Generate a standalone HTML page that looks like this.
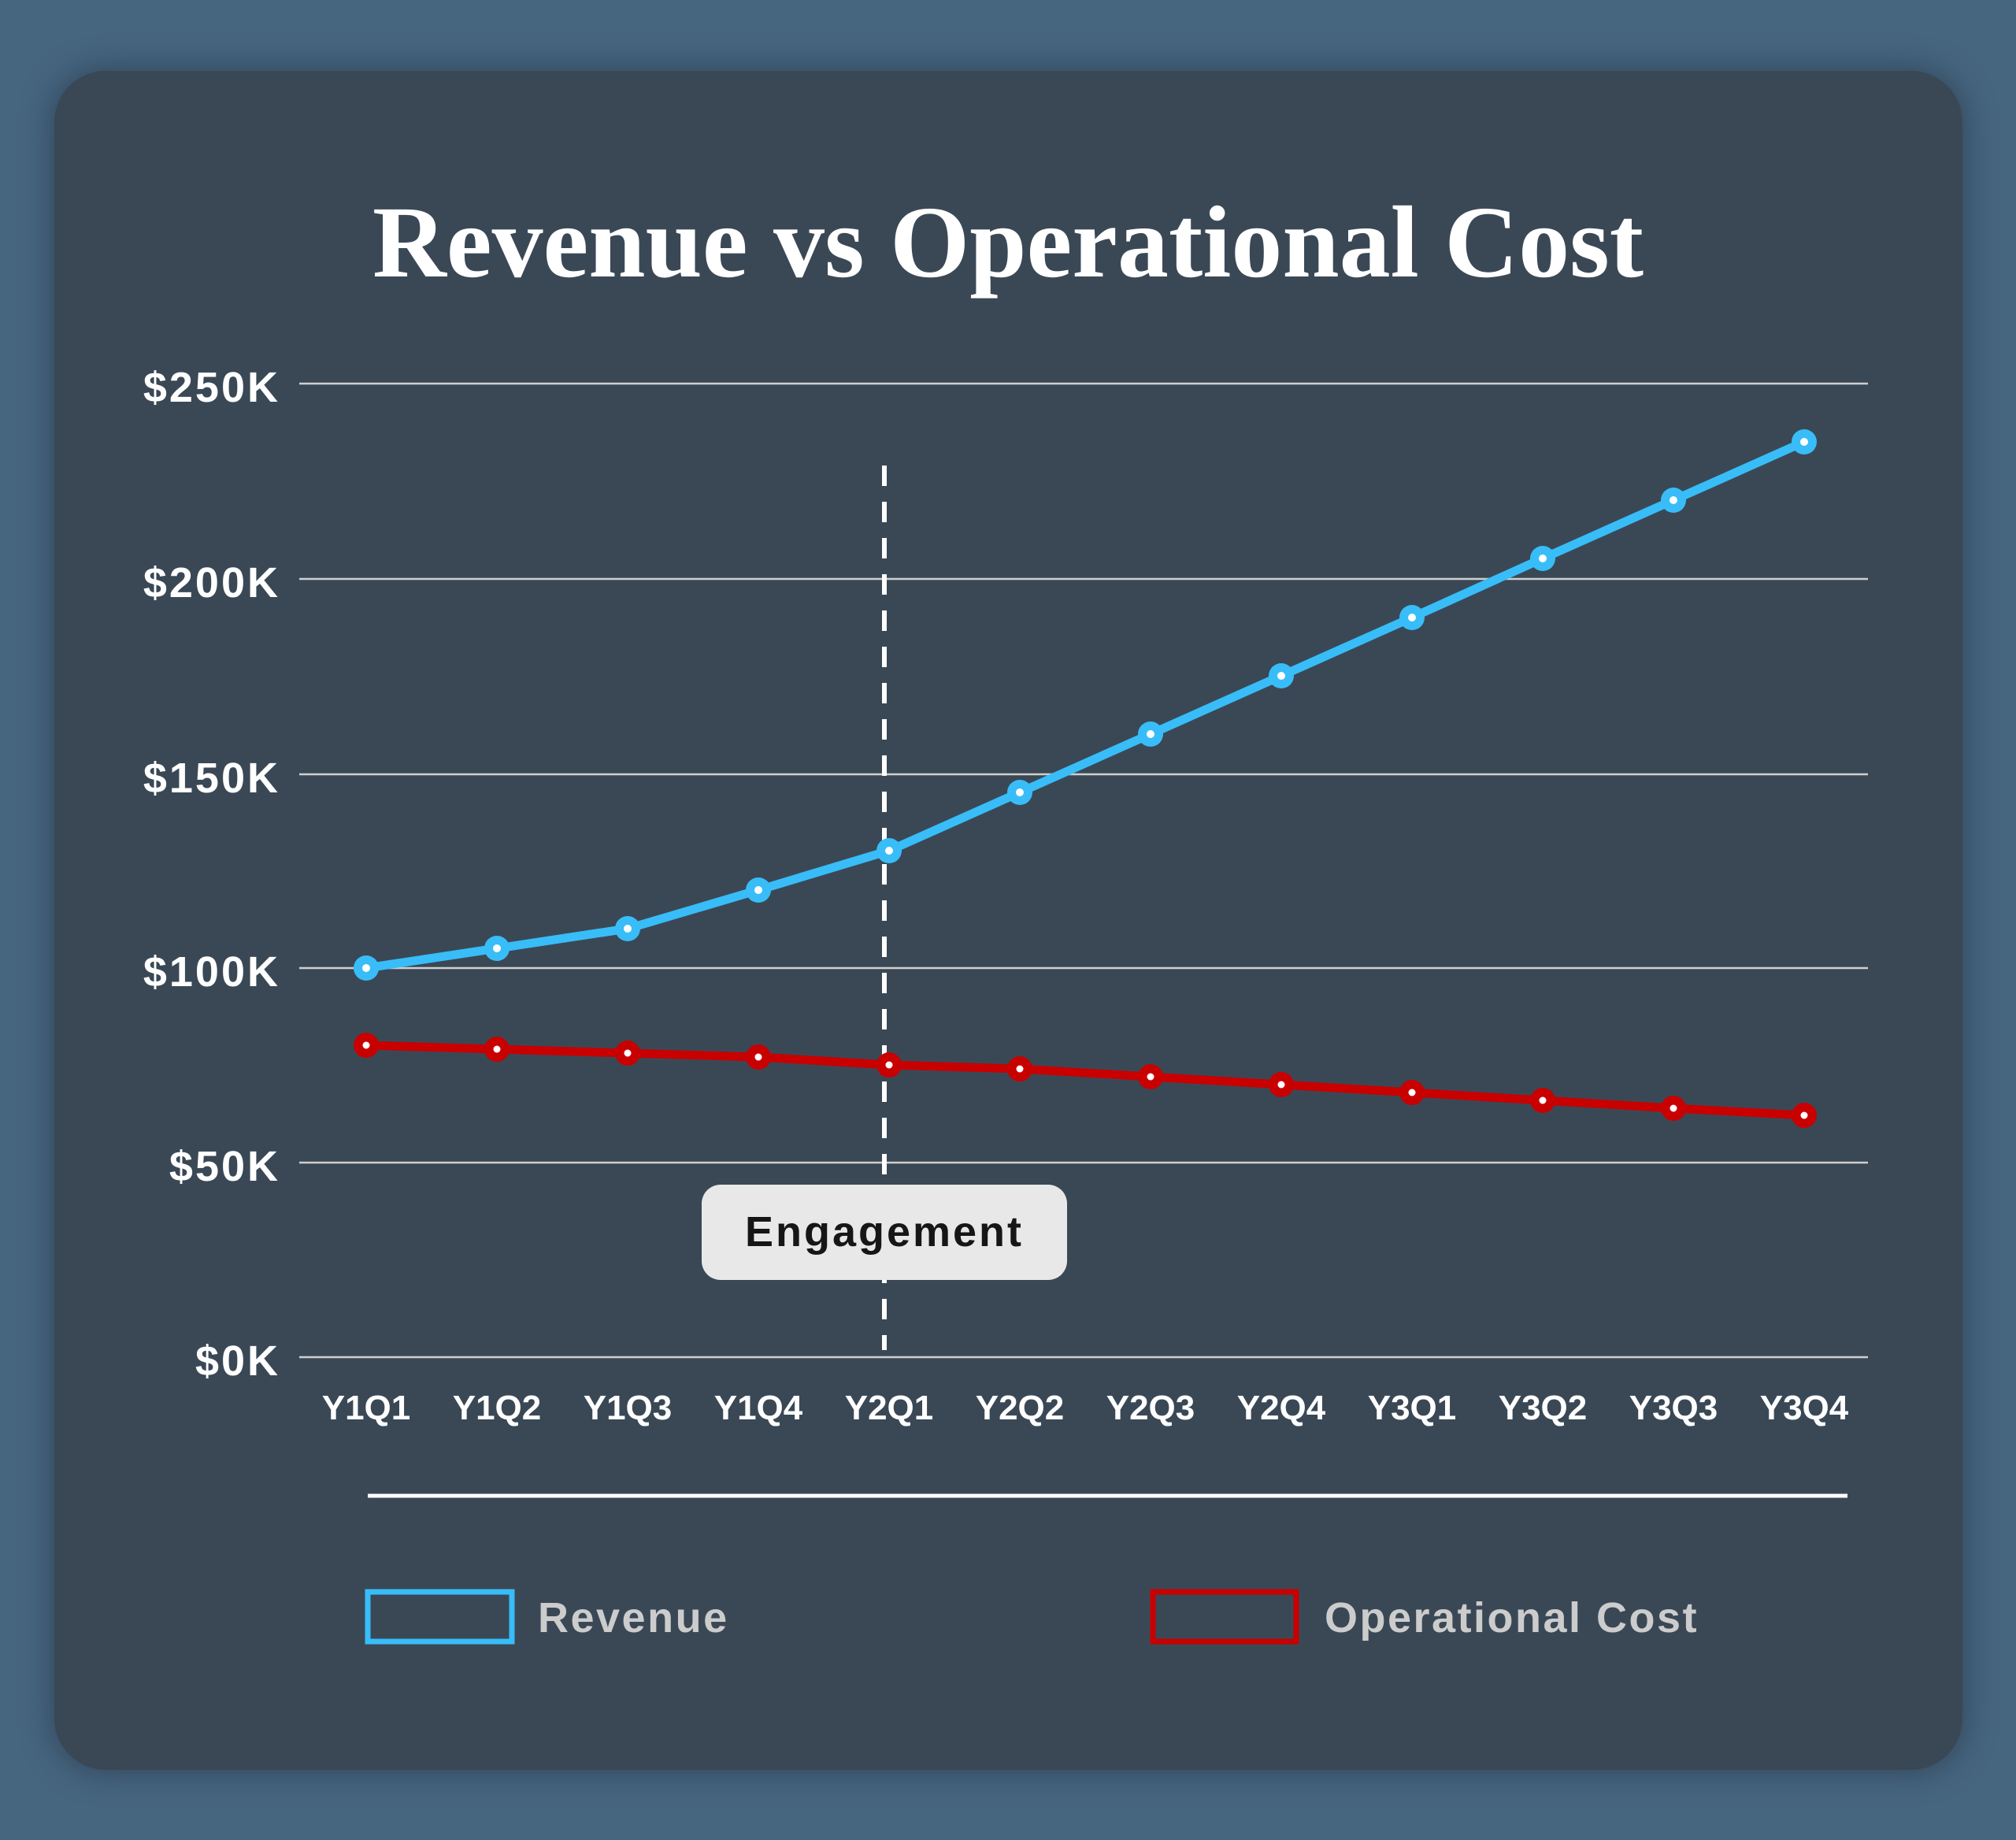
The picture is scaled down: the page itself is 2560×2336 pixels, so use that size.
<!DOCTYPE html>
<html><head><meta charset="utf-8"><style>
html,body{margin:0;padding:0;background:#46657f;}
body{width:2560px;height:2336px;position:relative;overflow:hidden;}
.card{position:absolute;left:69px;top:90px;width:2423px;height:2157px;background:#3a4856;border-radius:65px;box-shadow:0 0 40px rgba(30,45,60,0.6);}
svg{position:absolute;left:0;top:0;}
</style></head><body>
<div class="card"></div>
<svg width="2560" height="2336" viewBox="0 0 2560 2336">
<text x="1280" y="351" text-anchor="middle" font-family="'Liberation Serif',serif" font-weight="bold" font-size="130" fill="#ffffff">Revenue vs Operational Cost</text>
<g stroke="#cfcfcf" stroke-width="2.5">
<line x1="380" x2="2372" y1="487" y2="487"/>
<line x1="380" x2="2372" y1="735" y2="735"/>
<line x1="380" x2="2372" y1="983" y2="983"/>
<line x1="380" x2="2372" y1="1229" y2="1229"/>
<line x1="380" x2="2372" y1="1476" y2="1476"/>
<line x1="380" x2="2372" y1="1723" y2="1723"/>
</g>
<g font-family="'Liberation Sans',sans-serif" font-weight="bold" font-size="54" letter-spacing="3" fill="#fff" text-anchor="end">
<text x="356" y="510">$250K</text>
<text x="356" y="758">$200K</text>
<text x="356" y="1006">$150K</text>
<text x="356" y="1252">$100K</text>
<text x="356" y="1499">$50K</text>
<text x="356" y="1746">$0K</text>
</g>
<g font-family="'Liberation Sans',sans-serif" font-weight="bold" font-size="44" fill="#fff" text-anchor="middle">
<text x="465" y="1802">Y1Q1</text><text x="631" y="1802">Y1Q2</text><text x="797" y="1802">Y1Q3</text><text x="963" y="1802">Y1Q4</text>
<text x="1129" y="1802">Y2Q1</text><text x="1295" y="1802">Y2Q2</text><text x="1461" y="1802">Y2Q3</text><text x="1627" y="1802">Y2Q4</text>
<text x="1793" y="1802">Y3Q1</text><text x="1959" y="1802">Y3Q2</text><text x="2125" y="1802">Y3Q3</text><text x="2291" y="1802">Y3Q4</text>
</g>
<line x1="1123" x2="1123" y1="591" y2="1714" stroke="#fff" stroke-width="6" stroke-dasharray="26 20"/>
<polyline fill="none" stroke="#38bdf8" stroke-width="11" stroke-linejoin="round" points="465,1229 631,1204 797,1179 963,1130 1129,1080 1295,1006 1461,932 1627,858 1793,784 1959,709 2125,635 2291,561"/>
<g fill="#38bdf8"><circle cx="465" cy="1229" r="16"/><circle cx="631" cy="1204" r="16"/><circle cx="797" cy="1179" r="16"/><circle cx="963" cy="1130" r="16"/><circle cx="1129" cy="1080" r="16"/><circle cx="1295" cy="1006" r="16"/><circle cx="1461" cy="932" r="16"/><circle cx="1627" cy="858" r="16"/><circle cx="1793" cy="784" r="16"/><circle cx="1959" cy="709" r="16"/><circle cx="2125" cy="635" r="16"/><circle cx="2291" cy="561" r="16"/></g>
<g fill="#fff"><circle cx="465" cy="1229" r="5"/><circle cx="631" cy="1204" r="5"/><circle cx="797" cy="1179" r="5"/><circle cx="963" cy="1130" r="5"/><circle cx="1129" cy="1080" r="5"/><circle cx="1295" cy="1006" r="5"/><circle cx="1461" cy="932" r="5"/><circle cx="1627" cy="858" r="5"/><circle cx="1793" cy="784" r="5"/><circle cx="1959" cy="709" r="5"/><circle cx="2125" cy="635" r="5"/><circle cx="2291" cy="561" r="5"/></g>
<polyline fill="none" stroke="#c80000" stroke-width="11" stroke-linejoin="round" points="465,1327 631,1332 797,1337 963,1342 1129,1352 1295,1357 1461,1367 1627,1377 1793,1387 1959,1397 2125,1407 2291,1416"/>
<g fill="#c80000"><circle cx="465" cy="1327" r="16"/><circle cx="631" cy="1332" r="16"/><circle cx="797" cy="1337" r="16"/><circle cx="963" cy="1342" r="16"/><circle cx="1129" cy="1352" r="16"/><circle cx="1295" cy="1357" r="16"/><circle cx="1461" cy="1367" r="16"/><circle cx="1627" cy="1377" r="16"/><circle cx="1793" cy="1387" r="16"/><circle cx="1959" cy="1397" r="16"/><circle cx="2125" cy="1407" r="16"/><circle cx="2291" cy="1416" r="16"/></g>
<g fill="#fff"><circle cx="465" cy="1327" r="4.5"/><circle cx="631" cy="1332" r="4.5"/><circle cx="797" cy="1337" r="4.5"/><circle cx="963" cy="1342" r="4.5"/><circle cx="1129" cy="1352" r="4.5"/><circle cx="1295" cy="1357" r="4.5"/><circle cx="1461" cy="1367" r="4.5"/><circle cx="1627" cy="1377" r="4.5"/><circle cx="1793" cy="1387" r="4.5"/><circle cx="1959" cy="1397" r="4.5"/><circle cx="2125" cy="1407" r="4.5"/><circle cx="2291" cy="1416" r="4.5"/></g>
<rect x="891" y="1504" width="464" height="121" rx="24" fill="#e8e8e8"/>
<text x="1123" y="1582" text-anchor="middle" font-family="'Liberation Sans',sans-serif" font-weight="bold" font-size="54" letter-spacing="3" fill="#161616">Engagement</text>
<line x1="467" x2="2346" y1="1899" y2="1899" stroke="#fff" stroke-width="5"/>
<rect x="467" y="2021" width="183" height="63" fill="none" stroke="#38bdf8" stroke-width="7"/>
<text x="683" y="2072" font-family="'Liberation Sans',sans-serif" font-weight="bold" font-size="54" letter-spacing="2.5" fill="#cccccc">Revenue</text>
<rect x="1464" y="2021" width="182" height="63" fill="none" stroke="#c80000" stroke-width="7"/>
<text x="1682" y="2072" font-family="'Liberation Sans',sans-serif" font-weight="bold" font-size="54" letter-spacing="2.5" fill="#cccccc">Operational Cost</text>
</svg>
</body></html>
